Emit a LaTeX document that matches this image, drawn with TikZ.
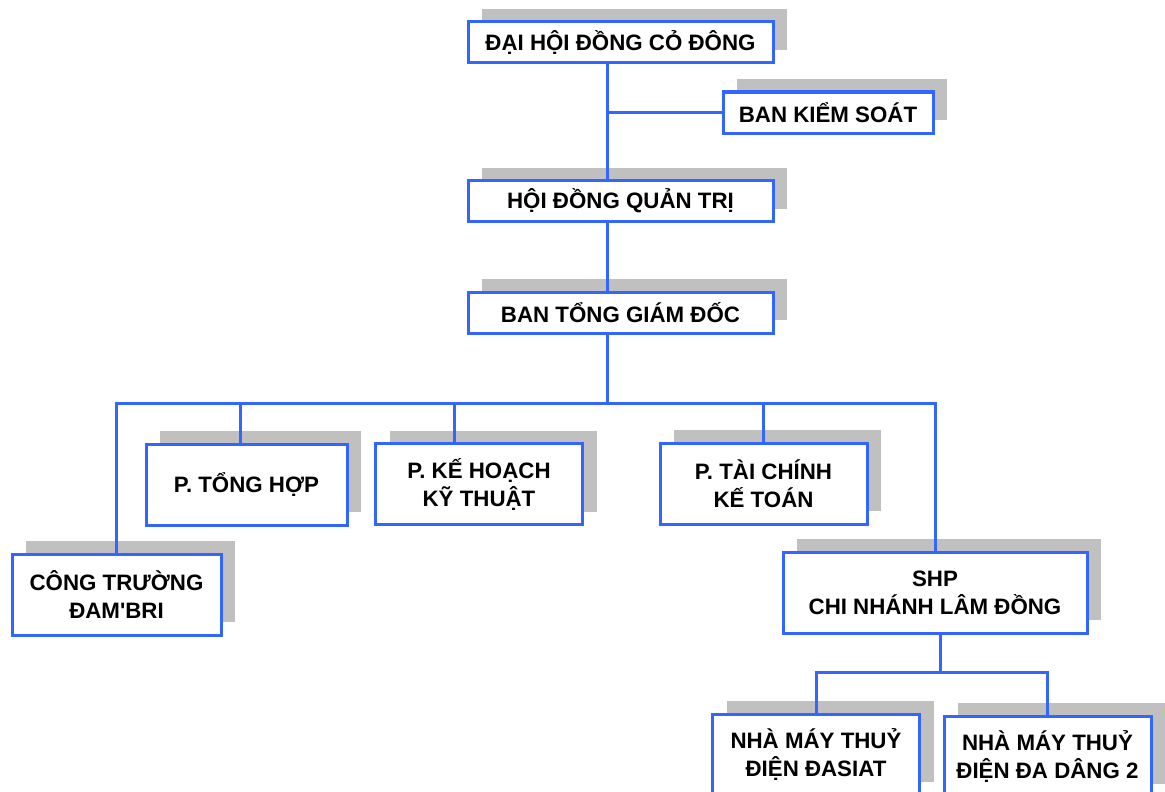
\documentclass[tikz,border=0pt]{standalone}
\usepackage{fontspec}
\setmainfont{Liberation Sans}[Ligatures=TeXOff]
\usepackage{tikz}
\usetikzlibrary{shadows, calc, positioning}
\definecolor{orgblue}{RGB}{51,102,255}
\definecolor{shadowgray}{RGB}{192,192,192}

\begin{document}
\begin{tikzpicture}[x=1pt, y=-1pt, line/.style={draw=orgblue, line width=3pt}, every node/.style={font=\bfseries\fontsize{22.3}{28}\selectfont}]
% Define styles for the boxes
\tikzstyle{unit} = [draw=orgblue, line width=3pt, fill=white, rectangle, align=center, inner sep=0pt, general shadow={fill=shadowgray, draw=none, shadow xshift=14pt, shadow yshift=13pt}]
\tikzstyle{wide} = [unit, minimum width=305pt, minimum height=41pt]
\tikzstyle{dept} = [unit, minimum width=207pt, minimum height=81pt]

\useasboundingbox (0,0) rectangle (1165,792);

% Nodes placement
\node [wide] (dhdcd) at (620.5,42.5) {ĐẠI HỘI ĐỒNG CỎ ĐÔNG};
\node [unit, minimum width=210pt, minimum height=41pt] (bks) at (828,112.5) {BAN KIỂM SOÁT};
\node [wide, below of=dhdcd, node distance=158.5pt] (hdqt) {HỘI ĐỒNG QUẢN TRỊ};
\node [wide, below of=hdqt, node distance=111.5pt] (btgd) {BAN TỔNG GIÁM ĐỐC};
\node [dept, minimum width=201pt] (tonghop) at (246.5,484.5) {P. TỔNG HỢP};
\node [dept] (kehoach) at (479,484) {P. KẾ HOẠCH\\KỸ THUẬT};
\node [dept] (taichinh) at (763.5,483.5) {P. TÀI CHÍNH\\KẾ TOÁN};
\node [dept, minimum width=209pt] (congtruong) at (116.5,594.5) {CÔNG TRƯỜNG\\ĐAM'BRI};
\node [dept, minimum width=304pt] (shp) at (935,592.5) {SHP\\CHI NHÁNH LÂM ĐỒNG};
\node [dept] (dasiat) at (816,754.5) {NHÀ MÁY THUỶ\\ĐIỆN ĐASIAT};
\node [dept] (dadang) at (1047.5,756.5) {NHÀ MÁY THUỶ\\ĐIỆN ĐA DÂNG 2};

% Bus points
\coordinate (bus) at (607,403);
\coordinate (subbus) at (940,672);

% Draw edges
\draw[line] (dhdcd.south -| bus) -- (hdqt.north -| bus);
\draw[line] (bks.west) -- (bks.west -| bus);
\draw[line] (hdqt.south -| bus) -- (btgd.north -| bus);
\draw[line] (btgd.south -| bus) -- (bus);
\draw[line] (congtruong.north) |- (bus) -| (shp.north);
\draw[line] ([xshift=-6.5pt]tonghop.north) |- (bus);
\draw[line] ([xshift=-25pt]kehoach.north) |- (bus);
\draw[line] (taichinh.north) |- (bus);

% Branch below the SHP box
\draw[line] ([xshift=5pt]shp.south) -- (subbus);
\draw[line] (dasiat.north) |- (subbus) -| (dadang.north);
\end{tikzpicture}
\end{document}
